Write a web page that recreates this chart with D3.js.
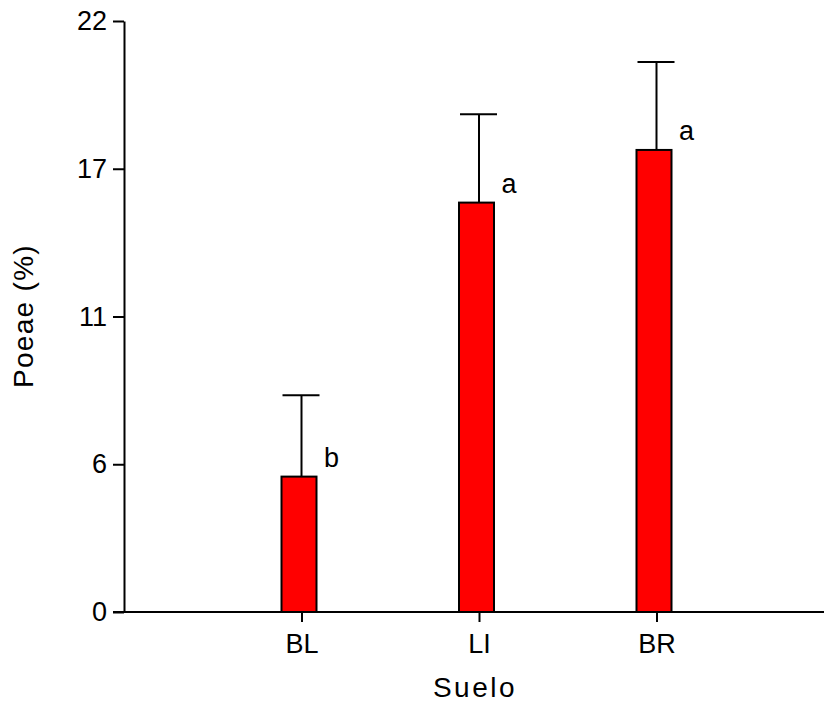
<!DOCTYPE html>
<html>
<head>
<meta charset="utf-8">
<script src="https://cdn.jsdelivr.net/npm/d3@7"></script>
<style>
  html, body { margin: 0; padding: 0; background: #fff; }
  svg { display: block; font-family: "Liberation Sans", Arial, sans-serif; }
</style>
</head>
<body>
<svg id="chart" width="824" height="702"></svg>
<script>
// Soil types and Poeae cover (%)
const categories = ["BL", "LI", "BR"];
const categoryPos = [1, 2, 3];
const means = [5.04, 15.24, 17.2];
const upperErr = [8.07, 18.53, 20.47];
const letters = ["b", "a", "a"];

// Y axis ticks: evenly spaced quarters of the range, labelled rounded
const yTickValues = [0, 5.5, 11, 16.5, 22];
const yTickLabels = ["0", "6", "11", "17", "22"];

const svg = d3.select("#chart");

const x = d3.scaleLinear().domain([0, 4]).range([124, 834]);
const y = d3.scaleLinear().domain([0, 22]).range([612, 21]);

const ink = "#000";
const fontPx = "27px";

// Y axis
const yAxis = d3.axisLeft(y)
  .tickValues(yTickValues)
  .tickFormat((d, i) => yTickLabels[i])
  .tickSize(11)
  .tickPadding(6)
  .tickSizeOuter(0);
const gy = svg.append("g").attr("transform", `translate(${x(0)},0)`).call(yAxis);
gy.select(".domain").attr("stroke", ink).attr("stroke-width", 2);
gy.selectAll(".tick line").attr("stroke", ink).attr("stroke-width", 2);
gy.selectAll(".tick text").attr("fill", ink).style("font-size", fontPx);

// X axis
const xAxis = d3.axisBottom(x)
  .tickValues(categoryPos)
  .tickFormat((d, i) => categories[i])
  .tickSize(10)
  .tickPadding(12)
  .tickSizeOuter(0);
const gx = svg.append("g").attr("transform", `translate(0,${y(0)})`).call(xAxis);
gx.select(".domain").attr("stroke", ink).attr("stroke-width", 2)
  .attr("d", `M${x(0) - 11},0H${x(4)}`);
gx.selectAll(".tick line").attr("stroke", ink).attr("stroke-width", 2);
gx.selectAll(".tick text").attr("fill", ink).style("font-size", fontPx);

// Error bars (upper only)
const eb = svg.append("g");
categoryPos.forEach((p, i) => {
  eb.append("line")
    .attr("x1", x(p)).attr("x2", x(p))
    .attr("y1", y(means[i])).attr("y2", y(upperErr[i]))
    .attr("stroke", ink).attr("stroke-width", 2);
  eb.append("line")
    .attr("x1", x(p) - 19).attr("x2", x(p) + 18)
    .attr("y1", y(upperErr[i])).attr("y2", y(upperErr[i]))
    .attr("stroke", ink).attr("stroke-width", 2);
});

// Bars
svg.append("g").selectAll("rect")
  .data(means)
  .join("rect")
  .attr("x", (d, i) => x(categoryPos[i]) - 20)
  .attr("width", 35)
  .attr("y", d => y(d))
  .attr("height", d => y(0) - y(d))
  .attr("fill", "#ff0000")
  .attr("stroke", ink)
  .attr("stroke-width", 2);

// Significance letters
svg.append("g").selectAll("text")
  .data(letters)
  .join("text")
  .attr("x", (d, i) => x(categoryPos[i]) + 30)
  .attr("y", (d, i) => y(means[i]) - 10)
  .attr("text-anchor", "middle")
  .attr("fill", ink)
  .style("font-size", fontPx)
  .text(d => d);

// Axis titles
svg.append("text")
  .attr("x", 475).attr("y", 697)
  .attr("text-anchor", "middle")
  .attr("fill", ink)
  .style("font-size", "28px")
  .style("letter-spacing", "2.5px")
  .text("Suelo");

svg.append("text")
  .attr("transform", "translate(33,316) rotate(-90)")
  .attr("text-anchor", "middle")
  .attr("fill", ink)
  .style("font-size", "28px")
  .style("letter-spacing", "1.3px")
  .text("Poeae (%)");
</script>
</body>
</html>
